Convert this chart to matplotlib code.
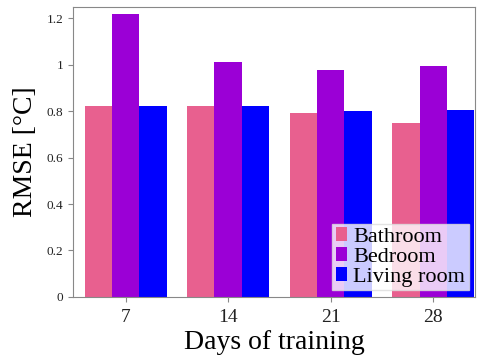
import matplotlib.pyplot as plt
import numpy as np
from matplotlib.ticker import FormatStrFormatter

plt.rcParams['font.family'] = ['Liberation Serif', 'DejaVu Serif']

days = ['7', '14', '21', '28']
rooms = ['Bathroom', 'Bedroom', 'Living room']
bathroom = [0.82, 0.82, 0.79, 0.75]
bedroom = [1.22, 1.013, 0.975, 0.996]
living_room = [0.82, 0.82, 0.80, 0.806]
colors = ['#e8608f', '#9b00d6', '#0000ff']

fig = plt.figure(figsize=(4.82, 3.63), dpi=100)
ax = fig.add_axes([0.152, 0.182, 0.834, 0.8])

x = np.arange(len(days))
w = 0.8 / 3
for i, (vals, name) in enumerate(zip([bathroom, bedroom, living_room], rooms)):
    ax.bar(x + (i - 1) * w, vals, w, color=colors[i], label=name)

ax.set_xlim(-0.51, 3.41)
ax.set_ylim(0, 1.25)
ax.set_xticks(x)
ax.set_xticklabels(days, fontsize=14)
ax.set_yticks(np.arange(0, 1.21, 0.2))
ax.yaxis.set_major_formatter(FormatStrFormatter('%g'))
ax.tick_params(axis='y', labelsize=9.5, colors='#222222', color='#888888')
ax.tick_params(axis='x', colors='#222222', color='#888888', pad=5)
for s in ax.spines.values():
    s.set_color('#888888')

ax.set_xlabel('Days of training', fontsize=20, labelpad=3)
ax.set_ylabel('RMSE [°C]', fontsize=20, labelpad=6)

leg = ax.legend(loc='lower right', fontsize=16, framealpha=0.8, fancybox=False,
                handlelength=0.5, handleheight=0.6, handletextpad=0.3,
                borderpad=0.15, labelspacing=0.0, borderaxespad=0.3)
leg.get_frame().set_edgecolor('#dddddd')

fig.savefig('out.png', dpi=100)
